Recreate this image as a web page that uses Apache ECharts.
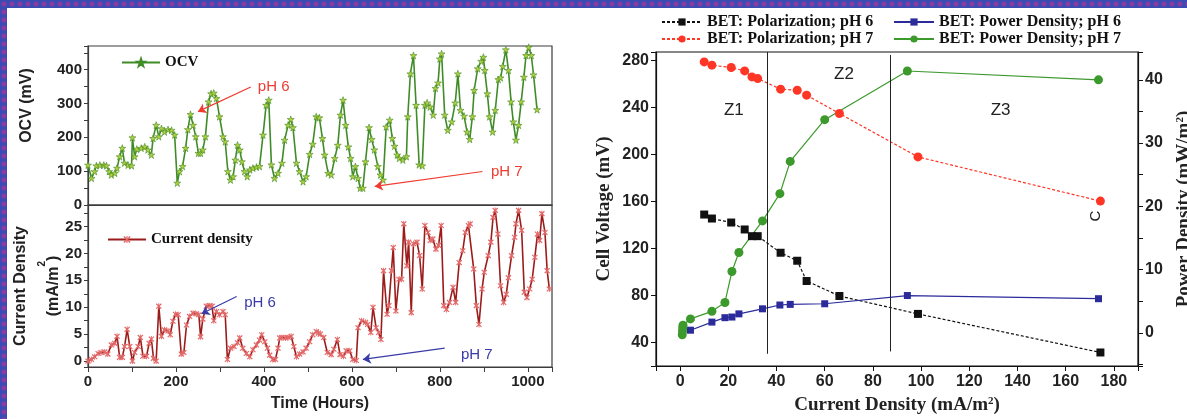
<!DOCTYPE html>
<html><head><meta charset="utf-8">
<script src="https://cdn.jsdelivr.net/npm/echarts@6/dist/echarts.min.js"></script>
<style>
html,body{margin:0;padding:0;overflow:hidden;}
#bg{position:absolute;left:0;top:0;width:1187px;height:419px;background-color:#3a4cb4;background-image:radial-gradient(circle at 50% 50%, #8a3aa0 0 2px, transparent 3px);background-size:8px 8px;}
#paper{position:absolute;left:7px;top:8px;width:1180px;height:411px;background:#fff;}
#chart{position:absolute;left:0;top:0;width:1187px;height:419px;}
</style></head><body>
<div id="bg"></div><div id="paper"></div><div id="chart"></div>
<script>
// ---------- data (hours, mV) ----------
const ocv = [[0,118],[8,79],[15,99],[19,116],[27,118],[36,118],[42,116],[48,99],[53,89],[61,94],[66,109],[72,143],[78,168],[83,124],[91,118],[99,116],[101,199],[106,143],[111,165],[121,168],[129,172],[136,163],[144,148],[148,197],[155,236],[161,202],[167,226],[174,216],[182,223],[190,221],[197,207],[203,65],[208,99],[215,114],[222,168],[227,223],[233,268],[239,236],[245,202],[251,153],[256,153],[261,163],[267,202],[274,305],[280,329],[286,331],[292,315],[299,261],[307,202],[312,187],[318,99],[324,74],[330,84],[335,133],[340,177],[345,163],[350,128],[356,99],[362,84],[368,104],[375,109],[383,112],[390,114],[398,207],[405,295],[411,310],[417,119],[424,79],[432,94],[441,124],[447,192],[455,236],[461,253],[466,229],[474,124],[481,99],[489,69],[496,84],[504,150],[511,180],[519,261],[526,258],[533,197],[538,148],[546,94],[553,89],[561,138],[568,177],[574,266],[580,310],[586,236],[592,172],[597,138],[602,84],[608,114],[614,79],[619,50],[625,50],[631,128],[639,229],[645,194],[651,163],[659,114],[665,89],[671,74],[678,231],[686,251],[692,197],[697,174],[703,148],[708,138],[716,133],[724,143],[727,261],[733,388],[740,442],[746,295],[753,119],[760,116],[766,295],[771,302],[778,290],[785,266],[790,345],[796,361],[800,432],[804,447],[811,266],[818,221],[827,246],[835,302],[841,388],[847,280],[855,263],[862,216],[868,194],[874,261],[878,339],[886,403],[894,425],[899,437],[902,398],[908,329],[913,261],[920,216],[926,280],[933,371],[938,376],[943,410],[950,459],[956,398],[962,305],[967,246],[973,192],[979,236],[985,305],[991,378],[996,442],[1002,466],[1008,442],[1013,385],[1021,282]];
// (hours, mA/m2)
const currentDensity = [[0,0],[8,0.3],[15,0.8],[23,1.4],[30,1.6],[38,1.7],[45,1.3],[53,3.0],[61,3.3],[66,4.6],[72,0.7],[78,0.7],[83,2.7],[89,5.9],[95,2.7],[101,0],[106,1.6],[114,2.7],[119,4.4],[125,0.9],[133,0.9],[139,3.3],[144,4.1],[149,0.5],[155,0],[161,10.2],[167,4.6],[174,5.8],[182,5.6],[187,4.9],[193,7.4],[199,8.7],[205,8.6],[212,1.3],[218,1.6],[224,6.7],[231,8.3],[239,8.9],[246,8.8],[252,8.6],[256,4.5],[261,7.8],[269,10.2],[277,10.3],[282,10.2],[286,7.5],[292,9.2],[299,8.6],[307,9.2],[312,8.6],[317,0.3],[324,2.4],[332,2.7],[340,3.4],[345,4.3],[352,2.4],[360,1.4],[368,0.8],[375,2.1],[383,3.0],[390,3.9],[395,4.9],[402,3.6],[408,2.4],[413,1.1],[420,0.3],[426,0.3],[432,2.4],[436,4.3],[441,4.4],[449,4.3],[455,4.4],[462,4.6],[468,2.7],[474,0.8],[481,1.3],[489,1.7],[496,2.4],[504,3.6],[511,4.9],[519,5.5],[524,5.2],[528,5.0],[536,4.4],[544,1.6],[553,1.2],[559,2.2],[567,4.0],[573,1.2],[581,0.9],[587,1.9],[595,1.9],[602,0.3],[610,0.1],[614,6.2],[622,7.5],[631,7.2],[636,6.8],[643,5.3],[648,10.0],[655,6.2],[661,5.3],[666,4.0],[672,16.8],[680,8.7],[684,10.3],[690,16.8],[694,21.1],[700,9.3],[707,15.2],[713,15.2],[718,25.5],[725,17.7],[729,22.1],[735,9.0],[740,21.8],[748,22.1],[754,19.6],[760,13.4],[766,25.2],[773,23.9],[778,22.4],[784,22.7],[791,20.8],[797,21.5],[803,25.2],[809,10.3],[815,9.6],[822,10.9],[830,13.7],[836,10.9],[844,18.3],[852,20.5],[858,23.9],[865,25.2],[869,25.5],[877,17.1],[883,10.3],[889,6.8],[896,13.4],[901,16.5],[910,19.6],[916,22.1],[921,26.7],[926,28.0],[932,23.6],[938,14.0],[945,10.9],[951,12.4],[956,15.5],[963,19.6],[970,23.0],[973,25.5],[979,28.0],[986,24.3],[992,12.8],[998,11.8],[1004,13.4],[1010,15.2],[1016,19.3],[1022,23.6],[1027,22.4],[1032,27.4],[1039,23.9],[1044,16.8],[1049,13.4]];
// Right chart: polarization (current density mA/m2 -> cell voltage mV)
const polCurrent = [10, 13.2, 21.2, 26.8, 29.8, 32.2, 41.7, 48.6, 52.5, 66.1, 98.7, 174.4];
const polPH6 = [148.8, 145.4, 142, 136.1, 130.4, 130.4, 116.3, 109.5, 92.3, 79.5, 64.3, 31.5];
const polPH7 = [278.6, 275.8, 273.8, 270.9, 265.8, 264.4, 255.4, 254.5, 250.3, 234.7, 197.8, 160.2];
// power density (mW/m2)
const powCurrentPH6 = [4.3, 13.2, 18.6, 21.5, 24.4, 34.2, 41.4, 45.7, 60.0, 94.3, 173.6];
const powPH6 = [0.42, 1.7, 2.4, 2.5, 3.0, 3.8, 4.4, 4.5, 4.6, 5.9, 5.4];
const powCurrentPH7 = [0.9, 1.0, 1.1, 1.2, 4.3, 13.2, 18.6, 21.5, 24.4, 34.2, 41.4, 45.7, 60.0, 94.3, 173.6];
const powPH7 = [-0.3, 0.3, 0.8, 1.2, 2.2, 3.4, 4.8, 9.7, 12.7, 17.7, 22.0, 27.1, 33.7, 41.4, 40.0];
const zoneBoundaries = [36.1, 87.3];
const zoneNames = ['Z1', 'Z2', 'Z3'];

const zip = (a, b) => a.map((v, i) => [v, b[i]]);
const sansB = {fontFamily: 'Liberation Sans', fontWeight: 'bold'};
const serifB = {fontFamily: 'Liberation Serif', fontWeight: 'bold'};
const frameL = '#3c3c3c';
const STAR = 'path://M5,0 L6.2,3.6 L10,3.6 L6.9,5.8 L8.1,9.5 L5,7.2 L1.9,9.5 L3.1,5.8 L0,3.6 L3.8,3.6 Z';
const AST = 'path://M4.3,0 L5.7,0 L5.7,10 L4.3,10 Z M0.3,1.7 L1.7,0.3 L9.7,8.3 L8.3,9.7 Z M8.3,0.3 L9.7,1.7 L1.7,9.7 L0.3,8.3 Z';
const supRich = (size) => ({sup: {fontSize: size, fontWeight: 'bold', verticalAlign: 'top', lineHeight: size + 2}});

const chart = echarts.init(document.getElementById('chart'), null, {renderer: 'canvas'});
const txtPt = (name, coord, color, size, extra) => ({name, coord, label: Object.assign({color, fontSize: size}, extra || {})});
const legendText = Object.assign({fontSize: 16, color: '#111'}, serifB);

const option = {
  animation: false,
  backgroundColor: 'transparent',
  grid: [
    {left: 88, top: 46, width: 464, height: 159, show: true, borderColor: frameL, borderWidth: 1.2, containLabel: false, outerBoundsMode: 'none'},
    {left: 88, top: 205, width: 464, height: 162, show: true, borderColor: frameL, borderWidth: 1.2, containLabel: false, outerBoundsMode: 'none'},
    {left: 656, top: 52, width: 482, height: 314, show: true, borderColor: '#111', borderWidth: 1.2, containLabel: false, outerBoundsMode: 'none'}
  ],
  legend: [
    {data: ['OCV'], left: 116, top: 50, itemWidth: 38, itemHeight: 9, textStyle: Object.assign({fontSize: 15, color: '#111'}, serifB)},
    {data: ['Current density'], left: 102, top: 227, itemWidth: 38, itemHeight: 9, textStyle: Object.assign({fontSize: 15, color: '#111'}, serifB)},
    {data: ['BET: Polarization; pH 6', 'BET: Polarization; pH 7'], orient: 'vertical', left: 656, top: 9, itemGap: 1, itemWidth: 40, itemHeight: 9, textStyle: legendText},
    {data: ['BET: Power Density; pH 6', 'BET: Power Density; pH 7'], orient: 'vertical', left: 888, top: 9, itemGap: 1, itemWidth: 40, itemHeight: 9, textStyle: legendText}
  ],
  xAxis: [
    {gridIndex: 0, type: 'value', min: 0, max: 1055, axisLine: {show: true, onZero: false, lineStyle: {color: frameL, width: 1.2}}, axisTick: {show: false}, axisLabel: {show: false}, splitLine: {show: false}},
    {gridIndex: 1, type: 'value', min: 0, max: 1055, interval: 100,
      axisLine: {show: true, onZero: false, lineStyle: {color: frameL, width: 1.2}}, axisTick: {show: true, length: 5, lineStyle: {color: frameL}},
      axisLabel: Object.assign({formatter: v => (v % 200 === 0 ? String(v) : ''), color: '#222', fontSize: 15, margin: 7}, sansB),
      splitLine: {show: false},
      name: 'Time (Hours)', nameLocation: 'middle', nameGap: 29, nameTextStyle: Object.assign({fontSize: 16, color: '#222'}, sansB)},
    {gridIndex: 2, type: 'value', min: -10, max: 190, minInterval: 20, maxInterval: 20,
      axisLine: {show: true, onZero: false, lineStyle: {color: '#111', width: 1.2}}, axisTick: {show: true, length: 5, lineStyle: {color: '#111'}},
      axisLabel: Object.assign({formatter: v => (v % 20 === 0 ? String(v) : ''), color: '#222', fontSize: 16, margin: 8}, sansB),
      splitLine: {show: false},
      name: 'Current Density (mA/m{sup|2})', nameLocation: 'middle', nameGap: 30,
      nameTextStyle: Object.assign({fontSize: 19, color: '#222', rich: supRich(11)}, serifB)}
  ],
  yAxis: [
    {gridIndex: 0, type: 'value', min: 0, max: 470, interval: 50,
      axisLine: {show: true, onZero: false, lineStyle: {color: frameL, width: 1.2}}, axisTick: {show: true, length: 4, lineStyle: {color: frameL}},
      axisLabel: Object.assign({formatter: v => (v % 100 === 0 ? String(v) : ''), color: '#222', fontSize: 15, margin: 6}, sansB),
      splitLine: {show: false},
      name: 'OCV (mV)', nameLocation: 'middle', nameRotate: 90, nameGap: 53,
      nameTextStyle: Object.assign({fontSize: 16, color: '#222', padding: [0, 0, 0, 40]}, sansB)},
    {gridIndex: 1, type: 'value', min: -1.1, max: 29, minInterval: 2.5, maxInterval: 2.5,
      axisLine: {show: true, onZero: false, lineStyle: {color: frameL, width: 1.2}}, axisTick: {show: true, length: 4, lineStyle: {color: frameL}},
      axisLabel: Object.assign({formatter: v => (Math.abs(v % 5) < 1e-9 ? String(v) : ''), color: '#222', fontSize: 15, margin: 6}, sansB),
      splitLine: {show: false},
      name: 'Current Density\n(mA/m{sup|2})', nameLocation: 'middle', nameRotate: 90, nameGap: 18, nameMoveOverlap: false,
      nameTextStyle: Object.assign({fontSize: 16, color: '#222', lineHeight: 33, rich: supRich(10)}, sansB)},
    {gridIndex: 2, type: 'value', min: 20, max: 287, minInterval: 40, maxInterval: 40,
      axisLine: {show: true, onZero: false, lineStyle: {color: '#111', width: 1.2}}, axisTick: {show: true, length: 5, lineStyle: {color: '#111'}},
      axisLabel: Object.assign({formatter: v => (v % 40 === 0 ? String(v) : ''), color: '#222', fontSize: 16, margin: 7}, sansB),
      splitLine: {show: false},
      name: 'Cell Voltage (mV)', nameLocation: 'middle', nameRotate: 90, nameGap: 42,
      nameTextStyle: Object.assign({fontSize: 19, color: '#222'}, serifB)},
    {gridIndex: 2, type: 'value', position: 'right', min: -5.24, max: 44.4, minInterval: 5, maxInterval: 5,
      axisLine: {show: true, onZero: false, lineStyle: {color: '#111', width: 1.2}}, axisTick: {show: true, length: 5, lineStyle: {color: '#111'}},
      axisLabel: Object.assign({formatter: v => (Math.abs(v % 10) < 1e-9 ? String(v) : ''), color: '#222', fontSize: 16, margin: 7}, sansB),
      splitLine: {show: false},
      name: 'Power Density (mW/m{sup|2})', nameLocation: 'middle', nameRotate: 90, nameGap: 37,
      nameTextStyle: Object.assign({fontSize: 19, color: '#222', rich: supRich(11)}, serifB)}
  ],
  series: [
    {name: 'OCV', type: 'line', xAxisIndex: 0, yAxisIndex: 0, data: ocv,
      lineStyle: {color: '#3f8c27', width: 1.6}, symbol: STAR, symbolSize: 7,
      itemStyle: {color: '#b4cf3c', borderColor: '#3f8c27', borderWidth: 0.6},
      markLine: {silent: true, symbol: ['none', 'arrow'], symbolSize: 8, label: {show: false},
        lineStyle: {color: '#ef3b30', width: 1.2, type: 'solid'},
        data: [[{coord: [370, 349]}, {coord: [250, 276]}], [{coord: [897, 99]}, {coord: [652, 55]}]]},
      markPoint: {silent: true, symbol: 'circle', symbolSize: 1, itemStyle: {color: 'rgba(0,0,0,0)'},
        label: {show: true, position: 'right', distance: 0, formatter: p => p.name, fontFamily: 'Liberation Sans', fontSize: 15, color: '#ef3b30'},
        data: [txtPt('pH 6', [385, 349], '#ef3b30', 15), txtPt('pH 7', [915, 99], '#ef3b30', 15)]}
    },
    {name: 'Current density', type: 'line', xAxisIndex: 1, yAxisIndex: 1, data: currentDensity,
      lineStyle: {color: '#9c1b1b', width: 1.6}, symbol: AST, symbolSize: 6,
      itemStyle: {color: '#e46a6a'},
      markLine: {silent: true, symbol: ['none', 'arrow'], symbolSize: 8, label: {show: false},
        lineStyle: {color: '#3a3aa8', width: 1.2, type: 'solid'},
        data: [[{coord: [338, 12.0]}, {coord: [258, 8.8]}], [{coord: [811, 2.4]}, {coord: [625, 0.3]}]]},
      markPoint: {silent: true, symbol: 'circle', symbolSize: 1, itemStyle: {color: 'rgba(0,0,0,0)'},
        label: {show: true, position: 'right', distance: 0, formatter: p => p.name, fontFamily: 'Liberation Sans', fontSize: 15, color: '#3a3aa8'},
        data: [txtPt('pH 6', [354, 10.9], '#3a3aa8', 15), txtPt('pH 7', [847, 1.1], '#3a3aa8', 15)]}
    },
    {name: 'BET: Polarization; pH 6', type: 'line', xAxisIndex: 2, yAxisIndex: 2, data: zip(polCurrent, polPH6),
      lineStyle: {color: '#111', width: 1.2, type: [3, 2]}, symbol: 'rect', symbolSize: 8,
      itemStyle: {color: '#111'}},
    {name: 'BET: Polarization; pH 7', type: 'line', xAxisIndex: 2, yAxisIndex: 2, data: zip(polCurrent, polPH7),
      lineStyle: {color: '#ff3526', width: 1.2, type: [3, 2]}, symbol: 'circle', symbolSize: 9,
      itemStyle: {color: '#ff3526'},
      markLine: {silent: true, symbol: 'none', label: {show: false}, lineStyle: {color: '#222', width: 1, type: 'solid'},
        data: [[{coord: [zoneBoundaries[0], 30.4]}, {coord: [zoneBoundaries[0], 287]}], [{coord: [zoneBoundaries[1], 32.4]}, {coord: [zoneBoundaries[1], 284.5]}]]},
      markPoint: {silent: true, symbol: 'circle', symbolSize: 1, itemStyle: {color: 'rgba(0,0,0,0)'},
        label: {show: true, position: 'inside', formatter: p => p.name, fontFamily: 'Liberation Sans', fontSize: 17, color: '#222'},
        data: [txtPt(zoneNames[0], [22.3, 237.5], '#222', 17), txtPt(zoneNames[1], [68, 268], '#222', 17), txtPt(zoneNames[2], [133, 237.5], '#222', 17),
               txtPt('C', [172.5, 147.5], '#222', 15, {rotate: 90})]}
    },
    {name: 'BET: Power Density; pH 6', type: 'line', xAxisIndex: 2, yAxisIndex: 3, data: zip(powCurrentPH6, powPH6),
      lineStyle: {color: '#2b2b9c', width: 1.2}, symbol: 'rect', symbolSize: 7,
      itemStyle: {color: '#2b2b9c'}},
    {name: 'BET: Power Density; pH 7', type: 'line', xAxisIndex: 2, yAxisIndex: 3, data: zip(powCurrentPH7, powPH7),
      lineStyle: {color: '#3c9a2c', width: 1.2}, symbol: 'circle', symbolSize: 9,
      itemStyle: {color: '#3c9a2c'}}
  ]
};
chart.setOption(option);
</script></body></html>
